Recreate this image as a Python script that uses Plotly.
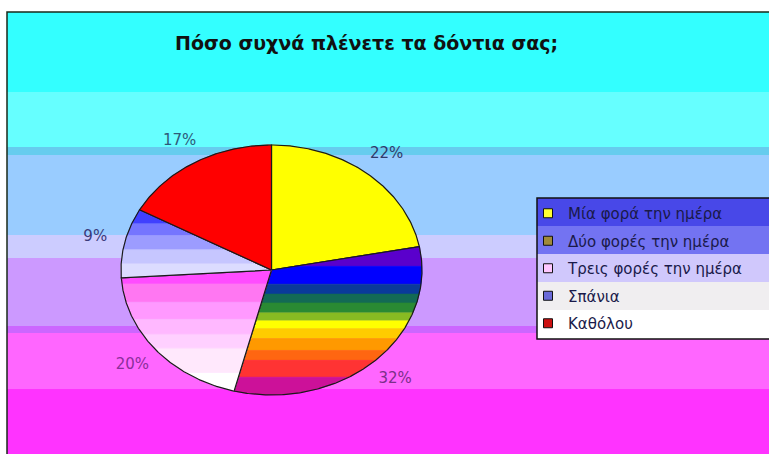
import numpy as np
import plotly.graph_objects as go

# ---------------- data ----------------
categories = ["Μία φορά την ημέρα", "Δύο φορές την ημέρα", "Τρεις φορές την ημέρα", "Σπάνια", "Καθόλου"]
values = [22, 32, 20, 9, 17]
title_text = "Πόσο συχνά πλένετε τα δόντια σας;"

# ---------------- styles ----------------
W, H = 769, 454
def px(x):
    return x / W
def py(y):
    return 1 - y / H

# gradient bands of each slice, top to bottom: (colour, relative height)
slice_bands = [
    [("#ffff00", 1)],
    [("#5a00cc", 20), ("#0000ff", 18), ("#0a3a9a", 10), ("#136a55", 9), ("#2a8a33", 10), ("#88bb22", 8),
     ("#ffff00", 8), ("#ffcc00", 10), ("#ff9900", 12), ("#ff6611", 10), ("#ff3333", 17), ("#cc1199", 18)],
    [("#ff4cff", 13), ("#ff77f2", 17), ("#ff99ff", 16), ("#ffb8ff", 14), ("#ffd0ff", 13), ("#ffe8fc", 23), ("#ffffff", 17)],
    [("#4040ff", 12), ("#7575ff", 10), ("#9c9cff", 12), ("#c6c6ff", 12), ("#dcdcff", 12)],
    [("#ff0000", 1)],
]
swatch_colors = ["#ffff33", "#a08a3a", "#ffc8ff", "#6a6ad8", "#cc1111"]
label_colors = ["#2f3a6a", "#7a2f8a", "#8a2f9a", "#3a3a7a", "#2f5a7a"]

bg_bands = [  # (y_top_px, y_bottom_px, color)
    (12, 92, "#33ffff"),
    (92, 147, "#66ffff"),
    (147, 155, "#66ccee"),
    (155, 235, "#99ccff"),
    (235, 258, "#ccccff"),
    (258, 326, "#cc99ff"),
    (326, 333, "#cc66ff"),
    (333, 389, "#ff66ff"),
    (389, 455, "#ff33ff"),
]
legend_bands = [
    (198, 226, "#4848e8"),
    (226, 254, "#7373f2"),
    (254, 282, "#d0c8fc"),
    (282, 310, "#f0eef0"),
    (310, 339, "#ffffff"),
]

# pie geometry (pixels): ellipse centre and radii
CX, CY, RX, RY = 271.5, 270, 150.5, 125
XR, YR = 1.6, 1.3


def clip(poly, ylo, yhi):
    def clip_half(pts, keep, y0):
        out = []
        n = len(pts)
        for i in range(n):
            cur, prev = pts[i], pts[i - 1]
            def inter(p, q):
                t = (y0 - p[1]) / (q[1] - p[1])
                return (p[0] + t * (q[0] - p[0]), y0)
            if keep(cur):
                if not keep(prev):
                    out.append(inter(prev, cur))
                out.append(cur)
            elif keep(prev):
                out.append(inter(prev, cur))
        return out
    pts = clip_half(poly, lambda p: p[1] >= ylo, ylo)
    if pts:
        pts = clip_half(pts, lambda p: p[1] <= yhi, yhi)
    return pts


fig = go.Figure()
total = sum(values)
cum = 0.0
label_x, label_y, label_t = [], [], []
for i, (cat, v) in enumerate(zip(categories, values)):
    a0 = cum / total * 2 * np.pi
    a1 = (cum + v) / total * 2 * np.pi
    cum += v
    th = np.linspace(a0, a1, max(int(np.degrees(a1 - a0)) * 2, 4))
    poly = [(0.0, 0.0)] + [(float(np.sin(t)), float(np.cos(t))) for t in th]
    g = f"g{i}"
    # legend entry
    fig.add_trace(go.Scatter(
        x=[None], y=[None], mode="markers", name=cat, legendgroup=g,
        marker=dict(symbol="square", size=9, color=swatch_colors[i], line=dict(color="#111111", width=1)),
        hoverinfo="skip"))
    bands = slice_bands[i]
    ys = [p[1] for p in poly]
    ymin, ymax = min(ys), max(ys)
    wsum = sum(w for _, w in bands)
    acc = 0.0
    for k, (col, w) in enumerate(bands):
        ytop = ymax - acc / wsum * (ymax - ymin)
        acc += w
        ybot = ymax - acc / wsum * (ymax - ymin)
        if k == len(bands) - 1:
            ybot = ymin - 1e-9
        if k == 0:
            ytop = ymax + 1e-9
        pts = clip(poly, ybot, ytop)
        if len(pts) < 3:
            continue
        fig.add_trace(go.Scatter(
            x=[p[0] for p in pts] + [pts[0][0]], y=[p[1] for p in pts] + [pts[0][1]],
            mode="lines", fill="toself", fillcolor=col, line=dict(color=col, width=0.6),
            legendgroup=g, showlegend=False, hoverinfo="skip"))
    # outline
    fig.add_trace(go.Scatter(
        x=[p[0] for p in poly] + [0.0], y=[p[1] for p in poly] + [0.0], mode="lines",
        line=dict(color="#1a1a1a", width=1.2), legendgroup=g, showlegend=False, hoverinfo="skip"))
    am = (a0 + a1) / 2
    label_x.append(1.2 * np.sin(am))
    label_y.append(1.2 * np.cos(am))
    label_t.append(f"{round(v / total * 100)}%")

fig.add_trace(go.Scatter(
    x=label_x, y=label_y, mode="text", text=label_t, textposition="middle center",
    textfont=dict(family="DejaVu Sans", size=15, color=label_colors),
    showlegend=False, hoverinfo="skip", cliponaxis=False))

shapes = []
for y0, y1, c in bg_bands:
    shapes.append(dict(type="rect", xref="paper", yref="paper", x0=px(7), x1=1.02, y0=py(y1), y1=py(y0),
                       fillcolor=c, line=dict(width=0), layer="below"))
shapes.append(dict(type="rect", xref="paper", yref="paper", x0=px(7), x1=1.02, y0=-0.02, y1=py(12),
                   fillcolor="rgba(0,0,0,0)", line=dict(color="#1a2a1a", width=1.5), layer="below"))
for y0, y1, c in legend_bands:
    shapes.append(dict(type="rect", xref="paper", yref="paper", x0=px(537), x1=1.02, y0=py(y1), y1=py(y0),
                       fillcolor=c, line=dict(width=0), layer="below"))
shapes.append(dict(type="rect", xref="paper", yref="paper", x0=px(537), x1=1.02, y0=py(339), y1=py(198),
                   fillcolor="rgba(0,0,0,0)", line=dict(color="#111111", width=1.5), layer="below"))

fig.update_layout(
    width=W, height=H, margin=dict(l=0, r=0, t=0, b=0),
    paper_bgcolor="white", plot_bgcolor="rgba(0,0,0,0)",
    xaxis=dict(domain=[px(CX - RX * XR), px(CX + RX * XR)], range=[-XR, XR], visible=False, fixedrange=True),
    yaxis=dict(domain=[py(CY + RY * YR), py(CY - RY * YR)], range=[-YR, YR], visible=False, fixedrange=True),
    shapes=shapes,
    annotations=[dict(text=title_text, xref="paper", yref="paper", x=px(366), y=py(43),
                      xanchor="center", yanchor="middle", showarrow=False,
                      font=dict(family="DejaVu Sans", size=19, color="#111111", weight="bold"))],
    legend=dict(x=px(528), y=py(197), xanchor="left", yanchor="top", bgcolor="rgba(0,0,0,0)",
                borderwidth=0, font=dict(family="DejaVu Sans", size=15, color="#1a1a4a"),
                traceorder="grouped", tracegroupgap=5, itemclick=False, itemdoubleclick=False),
    showlegend=True,
)

fig.write_html("out.html", config={"displayModeBar": False},
               post_script="document.body.style.margin='0';document.body.style.overflow='hidden';")
